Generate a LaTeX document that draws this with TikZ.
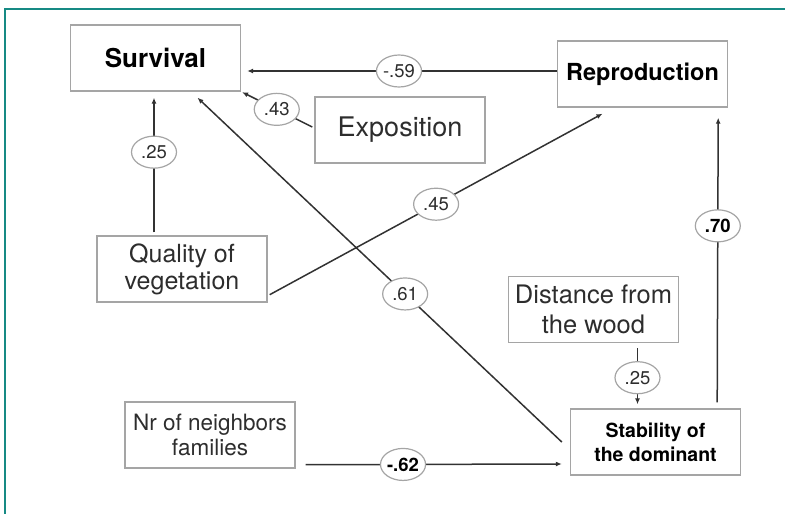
\documentclass[tikz,border=0pt]{standalone}
\usepackage{fontspec}
\setmainfont{TeX Gyre Heros}
\usetikzlibrary{shapes.geometric,arrows.meta}
\definecolor{frameteal}{RGB}{22,138,132}
\definecolor{boxgray}{RGB}{165,165,165}
\definecolor{linegray}{RGB}{50,50,50}
\definecolor{txtgray}{RGB}{45,45,45}
\begin{document}
\begin{tikzpicture}[
    x=1pt, y=-1pt,
    box/.style={draw=boxgray, line width=1.4pt, rectangle, minimum width=170pt,
      minimum height=66pt, inner sep=0pt, align=center, text=txtgray},
    coef/.style={draw=boxgray, line width=1.2pt, ellipse, fill=white, minimum width=45pt,
      minimum height=32pt, inner sep=0pt, text=txtgray,
      font=\fontsize{18.5}{18.5}\selectfont},
    arrow/.style={line width=1.5pt, draw=linegray, -{Latex[length=6pt,width=5pt]}}
]
\useasboundingbox (0,0) rectangle (785,514);
\draw [frameteal, line width=2.5pt] (785,9) -- (5,9) -- (5,514);

\node (surv)  [box, font=\fontsize{26}{28}\selectfont\bfseries, text=black] at (155.5,58) {Survival};
\node (repro) [box, font=\fontsize{23.5}{25}\selectfont\bfseries, text=black] at (642.5,74) {Reproduction};
\node (expo)  [box, font=\fontsize{27}{29}\selectfont] at (400,130) {Exposition};
\node (qual)  [box, font=\fontsize{25}{27}\selectfont] at (182,269) {Quality of\\vegetation};
\node (dist)  [box, font=\fontsize{25.5}{30}\selectfont] at (593.5,309.5) {Distance from\\the wood};
\node (stab)  [box, font=\fontsize{19.5}{24}\selectfont\bfseries, text=black] at (655.5,442) {Stability of\\the dominant};
\node (nr)    [box, font=\fontsize{22.5}{25}\selectfont] at (210,435) {Nr of neighbors\\families};

\draw [arrow, shorten >=6pt] ([yshift=3pt]repro.west) -- node[coef] {-.59} ([yshift=-13pt]surv.east);
\draw [arrow, shorten >=1pt] ([xshift=-2pt,yshift=3pt]expo.west) -- node[coef] {.43} (surv.south east);
\draw [arrow, shorten >=6pt] ([xshift=-28pt,yshift=3pt]qual.north) -- node[coef, pos=0.57] {.25} ([xshift=-1.5pt]surv.south);
\draw [arrow] ([xshift=2pt,yshift=8pt]qual.south east) -- node[coef] {.45} ([xshift=-40pt,yshift=-6pt]repro.south);
\draw [arrow] ([xshift=-8pt]stab.west) -- node[coef, pos=0.43] {.61} ([xshift=42pt,yshift=-6pt]surv.south);
\draw [arrow] ([xshift=-24pt,yshift=6pt]stab.north east) -- node[coef, pos=0.62, font=\fontsize{18.5}{18.5}\selectfont\bfseries, text=black] {.70} ([xshift=-10pt,yshift=-10pt]repro.south east);
\draw [arrow, shorten <=5pt, shorten >=4pt] ([xshift=44pt]dist.south) -- node[coef, pos=0.53] {.25} ([xshift=-18pt]stab.north);
\draw [arrow] ([xshift=10pt,yshift=4pt]nr.south east) -- node[coef, pos=0.38, font=\fontsize{18.5}{18.5}\selectfont\bfseries, text=black] {-.62} ([xshift=-8pt,yshift=-22pt]stab.west);
\end{tikzpicture}
\end{document}
